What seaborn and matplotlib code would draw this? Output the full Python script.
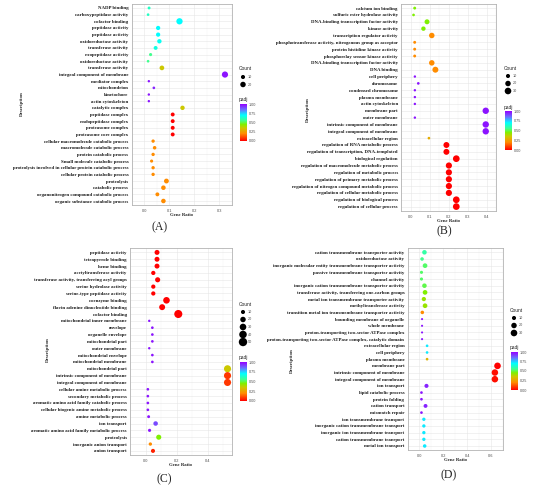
import numpy as np
import pandas as pd
import seaborn as sns
import matplotlib.pyplot as plt
from matplotlib.colors import LinearSegmentedColormap, Normalize
from matplotlib.cm import ScalarMappable

# ---- data ----
a_terms = ["NADP binding", "carboxypeptidase activity", "cofactor binding", "peptidase activity",
           "peptidase activity", "oxidoreductase activity", "transferase activity", "exopeptidase activity",
           "oxidoreductase activity", "transferase activity", "integral component of membrane",
           "mediator complex", "mitochondrion", "kinetochore", "actin cytoskeleton", "catalytic complex",
           "peptidase complex", "endopeptidase complex", "proteasome complex", "proteasome core complex",
           "cellular macromolecule catabolic process", "macromolecule catabolic process",
           "protein catabolic process", "Small molecule catabolic process",
           "proteolysis involved in cellular protein catabolic process", "cellular protein catabolic process",
           "proteolysis", "catabolic process", "organonitrogen compound catabolic process",
           "organic substance catabolic process"]
a_ratio = [0.020, 0.016, 0.141, 0.056, 0.056, 0.061, 0.046, 0.026, 0.016, 0.071,
           0.322, 0.019, 0.039, 0.019, 0.019, 0.153, 0.114, 0.114, 0.114, 0.114,
           0.036, 0.042, 0.036, 0.030, 0.036, 0.036, 0.089, 0.077, 0.053, 0.077]
a_count = [4, 3, 27, 11, 11, 12, 9, 5, 3, 14,
           26, 2, 3, 2, 2, 12, 9, 9, 9, 9,
           6, 7, 6, 5, 6, 6, 15, 13, 9, 13]
a_padj = [0.62, 0.62, 0.70, 0.70, 0.70, 0.68, 0.66, 0.55, 0.55, 0.35,
          0.97, 0.97, 0.95, 0.97, 0.97, 0.35, 0.0, 0.0, 0.0, 0.0,
          0.2, 0.2, 0.2, 0.2, 0.2, 0.2, 0.2, 0.2, 0.2, 0.2]
a_breaks = [10, 20]

b_terms = ["calcium ion binding", "sulfuric ester hydrolase activity", "DNA-binding transcription factor activity",
           "kinase activity", "transcription regulator activity",
           "phosphotransferase activity, nitrogenous group as acceptor", "protein histidine kinase activity",
           "phosphorelay sensor kinase activity", "DNA-binding transcription factor activity", "DNA binding",
           "cell periphery", "chromosome", "condensed chromosome", "plasma membrane", "actin cytoskeleton",
           "membrane part", "outer membrane", "intrinsic component of membrane", "integral component of membrane",
           "extracellular region", "regulation of RNA metabolic process",
           "regulation of transcription, DNA-templated", "biological regulation",
           "regulation of macromolecule metabolic process", "regulation of metabolic process",
           "regulation of primary metabolic process", "regulation of nitrogen compound metabolic process",
           "regulation of cellular metabolic process", "regulation of biological process",
           "regulation of cellular process"]
b_ratio = [0.022, 0.016, 0.087, 0.068, 0.112, 0.022, 0.022, 0.022, 0.112, 0.131,
           0.023, 0.041, 0.023, 0.023, 0.023, 0.396, 0.023, 0.396, 0.396, 0.097,
           0.189, 0.189, 0.241, 0.202, 0.202, 0.202, 0.202, 0.202, 0.241, 0.241]
b_count = [4, 3, 16, 12, 20, 4, 4, 4, 20, 24,
           2, 3, 2, 2, 2, 28, 2, 28, 28, 3,
           24, 24, 31, 26, 26, 26, 26, 26, 31, 31]
b_padj = [0.45, 0.45, 0.45, 0.45, 0.2, 0.2, 0.2, 0.2, 0.2, 0.2,
          0.97, 0.97, 0.97, 0.97, 0.97, 0.97, 0.97, 0.97, 0.97, 0.28,
          0.0, 0.0, 0.0, 0.0, 0.0, 0.0, 0.0, 0.0, 0.0, 0.0]
b_breaks = [10, 20, 30]

c_terms = ["peptidase activity", "tetrapyrrole binding", "heme binding", "acetyltransferase activity",
           "transferase activity, transferring acyl groups", "serine hydrolase activity",
           "serine-type peptidase activity", "coenzyme binding", "flavin adenine dinucleotide binding",
           "cofactor binding", "mitochondrial inner membrane", "envelope", "organelle envelope",
           "mitochondrial part", "outer membrane", "mitochondrial envelope", "mitochondrial membrane",
           "mitochondrial part", "intrinsic component of membrane", "integral component of membrane",
           "cellular amine metabolic process", "secondary metabolic process",
           "aromatic amino acid family catabolic process", "cellular biogenic amine metabolic process",
           "amine metabolic process", "ion transport", "aromatic amino acid family metabolic process",
           "proteolysis", "inorganic anion transport", "anion transport"]
c_ratio = [0.074, 0.074, 0.074, 0.050, 0.078, 0.050, 0.050, 0.135, 0.107, 0.211,
           0.024, 0.044, 0.044, 0.044, 0.024, 0.044, 0.044, 0.528, 0.528, 0.528,
           0.015, 0.015, 0.015, 0.015, 0.020, 0.065, 0.026, 0.085, 0.031, 0.048]
c_count = [16, 16, 16, 11, 17, 11, 11, 30, 24, 46,
           2, 3, 3, 3, 2, 3, 3, 35, 35, 35,
           3, 3, 3, 3, 4, 13, 5, 17, 6, 10]
c_padj = [0.0, 0.0, 0.0, 0.0, 0.0, 0.0, 0.0, 0.0, 0.0, 0.0,
          0.97, 0.97, 0.97, 0.97, 0.97, 0.97, 0.97, 0.35, 0.08, 0.08,
          0.97, 0.97, 0.97, 0.97, 0.97, 0.9, 0.97, 0.45, 0.2, 0.05]
c_breaks = [10, 20, 30, 40, 50]

d_terms = ["cation transmembrane transporter activity", "oxidoreductase activity",
           "inorganic molecular entity transmembrane transporter activity",
           "passive transmembrane transporter activity", "channel activity",
           "inorganic cation transmembrane transporter activity",
           "transferase activity, transferring one-carbon groups",
           "metal ion transmembrane transporter activity", "methyltransferase activity",
           "transition metal ion transmembrane transporter activity", "bounding membrane of organelle",
           "whole membrane", "proton-transporting two-sector ATPase complex",
           "proton-transporting two-sector ATPase complex, catalytic domain", "extracellular region",
           "cell periphery", "plasma membrane", "membrane part", "intrinsic component of membrane",
           "integral component of membrane", "ion transport", "lipid catabolic process", "protein folding",
           "cation transport", "mismatch repair", "ion transmembrane transport",
           "inorganic cation transmembrane transport", "inorganic ion transmembrane transport",
           "cation transmembrane transport", "metal ion transport"]
d_ratio = [0.042, 0.022, 0.047, 0.017, 0.017, 0.042, 0.047, 0.037, 0.047, 0.024,
           0.022, 0.022, 0.022, 0.022, 0.064, 0.064, 0.064, 0.654, 0.632, 0.632,
           0.059, 0.017, 0.017, 0.051, 0.017, 0.037, 0.037, 0.037, 0.037, 0.044]
d_count = [13, 7, 14, 5, 5, 13, 14, 11, 14, 7,
           1, 1, 1, 1, 3, 3, 3, 30, 29, 29,
           10, 3, 3, 9, 3, 6, 6, 6, 6, 7]
d_padj = [0.58, 0.55, 0.52, 0.52, 0.52, 0.5, 0.45, 0.42, 0.42, 0.2,
          0.97, 0.97, 0.97, 0.97, 0.72, 0.72, 0.3, 0.0, 0.02, 0.02,
          0.95, 0.97, 0.97, 0.95, 0.97, 0.72, 0.72, 0.72, 0.72, 0.72]
d_breaks = [10, 20, 30]

padj_ticks = [0.0, 0.25, 0.5, 0.75, 1.0]

# ---- style ----
W, H = 550, 492
cmap = LinearSegmentedColormap.from_list("padj", [
    (0.0, "#FF0000"), (0.2, "#FF8C00"), (0.35, "#CCC800"), (0.45, "#80F000"),
    (0.55, "#40FF90"), (0.7, "#00FFFF"), (0.85, "#6A70FF"), (1.0, "#9400FF")])
serif = "Liberation Serif"
sans = "Liberation Sans"
S_MIN, S_MAX, C_MAX = 1.6, 1.6 + 0.7 * 50, 50


def size_of(c):
    # marker area in points^2, same rule as the scatter size mapping
    return S_MIN + (S_MAX - S_MIN) * np.asarray(c, dtype=float) / C_MAX


def rect(x0, y0, x1, y1):
    return [x0 / W, 1 - y1 / H, (x1 - x0) / W, (y1 - y0) / H]


sns.set_style("white")
fig = plt.figure(figsize=(5.5, 4.92), dpi=100)
over = fig.add_axes([0, 0, 1, 1], zorder=10)
over.set_xlim(0, W)
over.set_ylim(H, 0)
over.axis("off")

panels = [
    # terms, ratio, count, padj, breaks, xticks, plot box, description (x, y), gene ratio y, label, legend (x, count y, padj y, bar y0, bar y1)
    (a_terms, a_ratio, a_count, a_padj, a_breaks, [0, 0.1, 0.2, 0.3], (131.5, 4, 232, 205), (22, 104), 215, ("(A)", 160, 227), (239, 69, 100, 104, 141)),
    (b_terms, b_ratio, b_count, b_padj, b_breaks, [0, 0.1, 0.2, 0.3, 0.4], (401, 4, 496, 210.7), (308, 110), 221.5, ("(B)", 444, 231), (504, 68, 107, 111, 150)),
    (c_terms, c_ratio, c_count, c_padj, c_breaks, [0, 0.2, 0.4], (130, 248.3, 231.5, 455), (48, 350), 465, ("(C)", 164, 479), (239, 304, 358, 362, 401)),
    (d_terms, d_ratio, d_count, d_padj, d_breaks, [0, 0.2, 0.4, 0.6], (407.5, 248.3, 503, 450), (292, 361), 460, ("(D)", 449, 475), (510, 310, 348, 352, 390)),
]

for terms, ratio, count, padj, breaks, xt, box, desc, gr_y, lab, leg in panels:
    x0, y0, x1, y1 = box
    ax = fig.add_axes(rect(x0, y0, x1, y1))
    df = pd.DataFrame({"Description": terms, "GeneRatio": ratio, "Count": count, "padj": padj})
    df["pos"] = np.arange(len(df))
    sns.scatterplot(data=df, x="GeneRatio", y="pos", size="Count", hue="padj",
                    palette=cmap, hue_norm=(0, 1), sizes=(S_MIN, S_MAX), size_norm=(0, C_MAX),
                    edgecolor="none", linewidth=0, legend=False, ax=ax, zorder=3)
    rng = max(ratio) - min(ratio)
    ax.set_xlim(min(ratio) - 0.05 * rng, max(ratio) + 0.05 * rng)
    ax.set_ylim(len(terms) - 0.4, -0.6)
    ax.set_yticks(df["pos"])
    ax.set_yticklabels(terms, fontfamily=serif, fontweight="bold", fontsize=3.55, color="#1a1a1a")
    ax.set_xticks(xt)
    ax.set_xticks([v + (xt[1] - xt[0]) / 2 for v in [xt[0] - (xt[1] - xt[0])] + xt], minor=True)
    ax.set_xticklabels([f"{v:.1f}" for v in xt], fontfamily=sans, fontsize=2.8, color="#4d4d4d")
    ax.tick_params(axis="y", length=1.3, width=0.35, color="#333333", pad=1)
    ax.tick_params(axis="x", which="major", length=1.3, width=0.35, color="#333333", pad=1.5)
    ax.tick_params(axis="x", which="minor", length=0)
    ax.grid(True, which="major", color="#e6e6e6", linewidth=0.4, zorder=0)
    ax.grid(True, which="minor", axis="x", color="#f2f2f2", linewidth=0.3, zorder=0)
    ax.set_axisbelow(True)
    for s in ax.spines.values():
        s.set_color("#b3b3b3")
        s.set_linewidth(0.6)
    ax.set_xlabel("")
    ax.set_ylabel("")

    # axis titles and panel label
    over.text(desc[0], desc[1], "Description", rotation=90, ha="center", va="center",
              fontfamily=serif, fontweight="bold", fontsize=3.6)
    over.text((x0 + x1) / 2, gr_y, "Gene Ratio", ha="center", va="center",
              fontfamily=serif, fontweight="bold", fontsize=3.4)
    over.text(lab[1], lab[2], lab[0], ha="center", va="center", fontfamily=serif, fontsize=8.5)

    # Count legend
    lx, cy, py, by0, by1 = leg
    over.text(lx, cy, "Count", ha="left", va="center", fontfamily=sans, fontsize=3.5)
    for i, b in enumerate(breaks):
        yy = cy + 8 + i * 7.5
        over.scatter([lx + 4], [yy], s=size_of([b]), color="black", edgecolor="none")
        over.text(lx + 9, yy, str(b), ha="left", va="center", fontfamily=sans, fontsize=2.7, color="#4d4d4d")

    # padj colour bar
    over.text(lx, py, "padj", ha="left", va="center", fontfamily=sans, fontsize=3.5)
    cax = fig.add_axes(rect(lx + 1, by0, lx + 8, by1))
    cb = fig.colorbar(ScalarMappable(norm=Normalize(0, 1), cmap=cmap), cax=cax, ticks=padj_ticks)
    cb.outline.set_visible(False)
    cb.ax.set_yticklabels([f"{t:.2f}" for t in padj_ticks], fontfamily=sans, fontsize=2.7, color="#4d4d4d")
    cb.ax.tick_params(length=1.5, width=0.3, color="white", direction="in", pad=1.2)

fig.savefig("out.png", dpi=100)
